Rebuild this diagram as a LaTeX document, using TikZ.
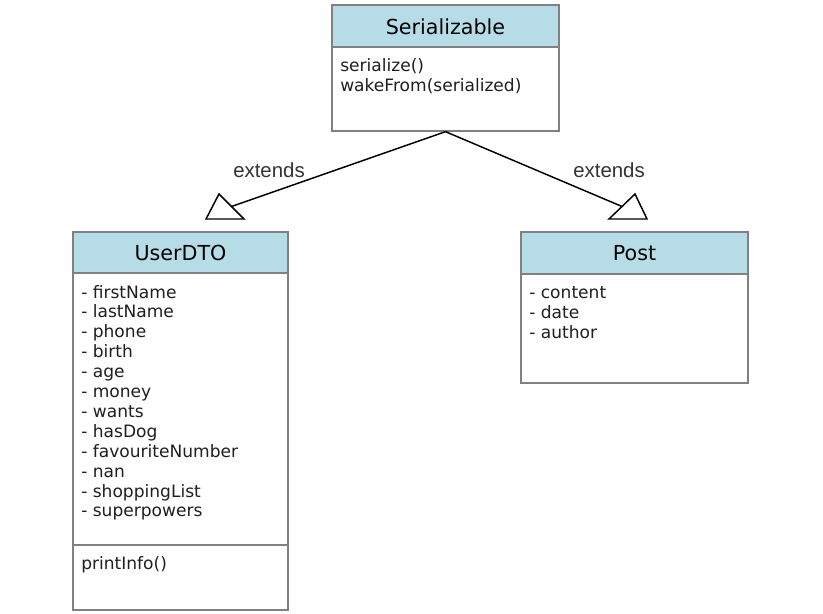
\documentclass[tikz,border=0pt]{standalone}
\usepackage{fontspec}
\setmainfont{DejaVu Sans}
\newfontfamily\labelfont{Liberation Sans}
\usetikzlibrary{calc}
\definecolor{headfill}{HTML}{B6DDE7}
\definecolor{boxline}{HTML}{808080}
\definecolor{labelgray}{HTML}{333333}
\tikzset{
  classbox/.style={draw=boxline, line width=1pt, rectangle, inner sep=0pt},
  classname/.style={font=\fontsize{15.5pt}{18pt}\selectfont, text=black, inner sep=0pt},
  member/.style={font=\fontsize{12.8pt}{15pt}\selectfont, text=black!88, anchor=base west, inner sep=0pt},
  relation/.style={draw=black, line width=1.1pt},
  inherit/.style={draw=black, line width=1.1pt, fill=white, line join=miter},
  extlabel/.style={font=\labelfont\fontsize{15.3pt}{18pt}\selectfont, text=labelgray, inner sep=0pt}
}
\begin{document}
\begin{tikzpicture}[x=0.75pt, y=-0.75pt]
\useasboundingbox[fill=white] (0,0) rectangle (823,613);

% Serializable
\fill[headfill] (332,5) rectangle (559,47);
\node[classbox, minimum width=170.25pt, minimum height=94.5pt] (ser) at (445.5,68) {};
\draw[boxline, line width=1pt] (332,47) -- (559,47);
\node[classname] (sertitle) at (445.5,26.5) {Serializable};
\node[member] (sm1) at (340,72) {serialize()};
\node[member] (sm2) at (340,91.5) {wakeFrom(serialized)};

% UserDTO
\fill[headfill] (73,232) rectangle (288,273);
\node[classbox, minimum width=161.25pt, minimum height=283.5pt] (user) at (180.5,421) {};
\draw[boxline, line width=1pt] (73,273) -- (288,273);
\draw[boxline, line width=1pt] (73,545) -- (288,545);
\node[classname] (usertitle) at (180.5,253) {UserDTO};
\foreach \f [count=\i from 0] in {firstName,lastName,phone,birth,age,money,wants,hasDog,favouriteNumber,nan,shoppingList,superpowers}
  \node[member] (uf\i) at (81,298+19.9*\i) {- \f};
\node[member] (um1) at (81,569) {printInfo()};

% Post
\fill[headfill] (521,232) rectangle (748,274);
\node[classbox, minimum width=170.25pt, minimum height=113.25pt] (post) at (634.5,307.5) {};
\draw[boxline, line width=1pt] (521,274) -- (748,274);
\node[classname] (posttitle) at (634.5,253) {Post};
\foreach \f [count=\i from 0] in {content,date,author}
  \node[member] (pf\i) at (529,298+20*\i) {- \f};

% generalization arrows
\draw[inherit] (206,219) -- (244,219) -- (219,194) -- cycle;
\draw[inherit] (609,219) -- (647,219) -- (635,194) -- cycle;
\coordinate (ltip) at (231.5,206.5);
\coordinate (rtip) at (622,206.5);
\draw[relation] (ser.south) -- (ltip);
\draw[relation] (ser.south) -- (rtip);
\node[extlabel] (lext) at (269,170) {extends};
\node[extlabel] (rext) at (609,170) {extends};
\end{tikzpicture}
\end{document}
